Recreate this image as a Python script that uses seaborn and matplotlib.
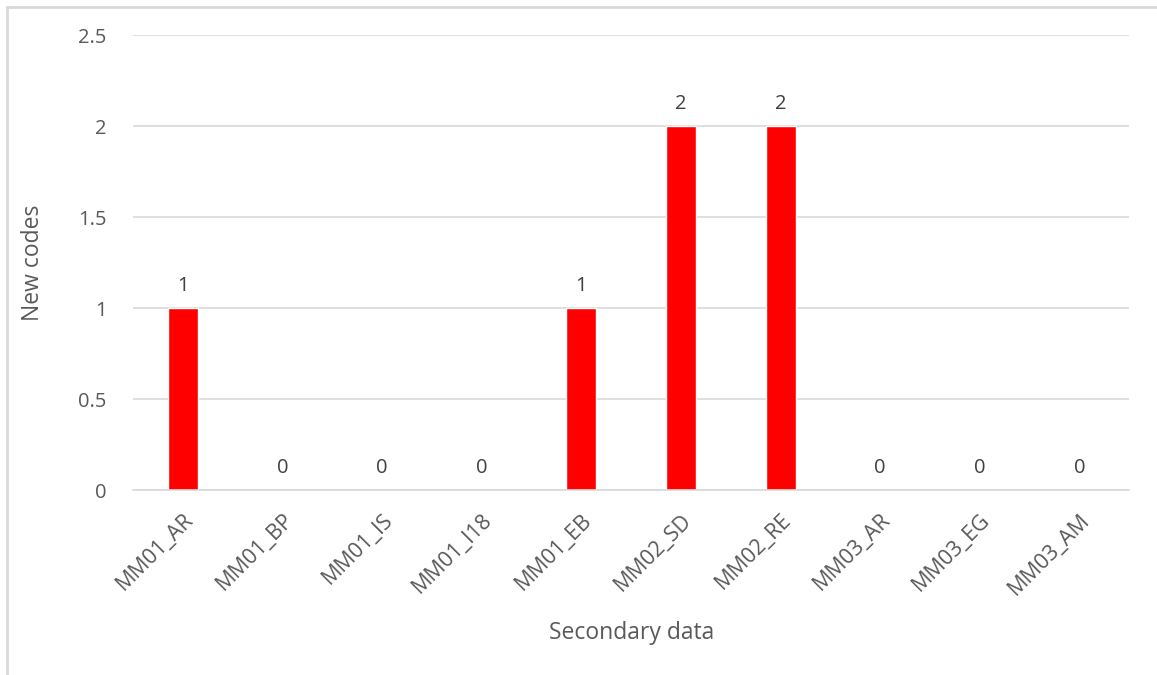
import matplotlib
matplotlib.use("Agg")
import matplotlib.pyplot as plt
from matplotlib.lines import Line2D
import seaborn as sns
import pandas as pd

categories = ["MM01_AR", "MM01_BP", "MM01_IS", "MM01_I18", "MM01_EB",
              "MM02_SD", "MM02_RE", "MM03_AR", "MM03_EG", "MM03_AM"]
new_codes = [1, 0, 0, 0, 1, 2, 2, 0, 0, 0]
y_ticks = [0, 0.5, 1, 1.5, 2, 2.5]
y_tick_labels = ["0", "0.5", "1", "1.5", "2", "2.5"]

sns.set_theme(style="white")
plt.rcParams["font.family"] = ["Open Sans", "DejaVu Sans"]

df = pd.DataFrame({"Secondary data": categories, "New codes": new_codes})

fig = plt.figure(figsize=(11.57, 6.75), dpi=100)
ax = fig.add_axes([0.115, 0.274, 0.861, 0.674])

sns.barplot(data=df, x="Secondary data", y="New codes", color="#ff0000",
            saturation=1, width=0.30, ax=ax)

ax.set_ylim(0, 2.5)
ax.set_xlim(-0.5, len(categories) - 0.5)
ax.set_yticks(y_ticks)
ax.set_yticklabels(y_tick_labels)
ax.yaxis.grid(True, color="#d9d9d9", linewidth=1.2)
ax.set_axisbelow(True)
for side in ["top", "right", "left"]:
    ax.spines[side].set_visible(False)
ax.spines["bottom"].set_color("#d9d9d9")
ax.spines["bottom"].set_linewidth(1.2)

ax.tick_params(axis="y", length=0, colors="#595959", labelsize=14.5, pad=19)
ax.tick_params(axis="x", length=0, colors="#595959", labelsize=15.5, pad=14)
for lbl in ax.get_xticklabels():
    lbl.set_rotation(45)
    lbl.set_ha("right")
    lbl.set_rotation_mode("anchor")

ax.set_xlabel("Secondary data", fontsize=16.5, color="#595959", labelpad=16)
ax.set_ylabel("New codes", fontsize=16.5, color="#595959", labelpad=24)

for container in ax.containers:
    ax.bar_label(container, labels=[str(v) for v in new_codes],
                 padding=9, fontsize=14.5, color="#404040")

# light frame on the left and top edges of the figure
fig.add_artist(Line2D([7 / 1157, 7 / 1157], [0, 1 - 7 / 675],
                      transform=fig.transFigure, color="#d9d9d9", linewidth=2))
fig.add_artist(Line2D([7 / 1157, 1], [1 - 7 / 675, 1 - 7 / 675],
                      transform=fig.transFigure, color="#d9d9d9", linewidth=2))

fig.savefig("out.png", dpi=100, facecolor="white")
